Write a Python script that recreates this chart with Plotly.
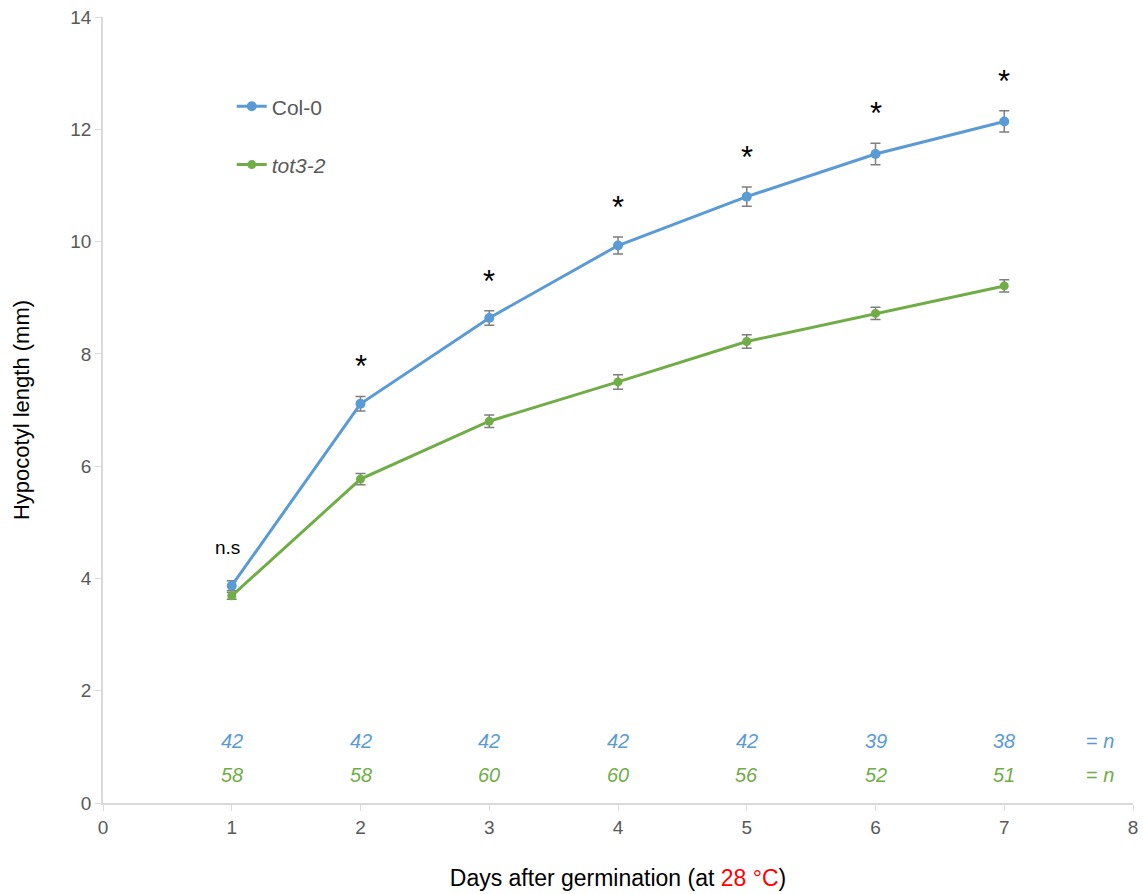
import plotly.graph_objects as go

days = [1, 2, 3, 4, 5, 6, 7]
col0 = [3.87, 7.11, 8.64, 9.93, 10.80, 11.56, 12.14]
col0_err = [0.09, 0.13, 0.13, 0.15, 0.17, 0.19, 0.19]
tot3 = [3.69, 5.77, 6.80, 7.50, 8.22, 8.72, 9.21]
tot3_err = [0.06, 0.10, 0.11, 0.13, 0.12, 0.11, 0.11]
n_col0 = ["42", "42", "42", "42", "42", "39", "38"]
n_tot3 = ["58", "58", "60", "60", "56", "52", "51"]
sig = ["n.s", "*", "*", "*", "*", "*", "*"]

BLUE = "#5B9BD5"
GREEN = "#70AD47"
FONT = "Liberation Sans, Arial, sans-serif"

fig = go.Figure()
fig.add_trace(go.Scatter(
    x=days, y=col0, name="Col-0", mode="lines+markers",
    line=dict(color=BLUE, width=3), marker=dict(color=BLUE, size=10),
    error_y=dict(type="data", array=col0_err, color="#7f7f7f", thickness=1.5, width=5),
    legendgroup="a"))
fig.add_trace(go.Scatter(
    x=days, y=tot3, name="<i>tot3-2</i>", mode="lines+markers",
    line=dict(color=GREEN, width=3), marker=dict(color=GREEN, size=9),
    error_y=dict(type="data", array=tot3_err, color="#7f7f7f", thickness=1.5, width=5),
    legendgroup="b"))

ann = []
for d, v, e, s in zip(days, col0, col0_err, sig):
    if s == "*":
        ann.append(dict(x=d, y=v + 0.18 + e, text="*", showarrow=False, yanchor="bottom",
                        font=dict(size=31, color="black", family=FONT)))
    else:
        ann.append(dict(x=d, y=v + 0.45, text=s, showarrow=False, yanchor="bottom",
                        xshift=-4, font=dict(size=19, color="black", family=FONT)))
for d, a, b in zip(days, n_col0, n_tot3):
    ann.append(dict(x=d, y=1.1, text=f"<i>{a}</i>", showarrow=False,
                    font=dict(size=20, color=BLUE, family=FONT)))
    ann.append(dict(x=d, y=0.5, text=f"<i>{b}</i>", showarrow=False,
                    font=dict(size=20, color=GREEN, family=FONT)))
ann.append(dict(x=7.74, y=1.1, text="= <i>n</i>", showarrow=False,
                font=dict(size=20, color=BLUE, family=FONT)))
ann.append(dict(x=7.74, y=0.5, text="= <i>n</i>", showarrow=False,
                font=dict(size=20, color=GREEN, family=FONT)))

fig.update_layout(
    width=1143, height=894,
    margin=dict(l=103, r=10, t=17, b=91),
    plot_bgcolor="white", paper_bgcolor="white",
    font=dict(family=FONT, color="#595959"),
    showlegend=True,
    legend=dict(x=0.125, y=0.912, xanchor="left", yanchor="top",
                font=dict(size=21, color="#595959", family=FONT),
                tracegroupgap=28, bgcolor="rgba(0,0,0,0)"),
    xaxis=dict(range=[0, 8], tickmode="linear", dtick=1, showgrid=False, zeroline=False,
               showline=True, linecolor="#d9d9d9", linewidth=1.5,
               ticks="outside", ticklen=6, tickcolor="#d9d9d9",
               tickfont=dict(size=19, color="#595959"), automargin=False,
               title=dict(text="Days after germination (at <span style='color:red'>28 °C</span>)",
                          font=dict(size=23, color="black"), standoff=33)),
    yaxis=dict(range=[0, 14], tickmode="linear", dtick=2, showgrid=False, zeroline=False,
               showline=True, linecolor="#d9d9d9", linewidth=1.5,
               ticks="outside", ticklen=6, tickcolor="#d9d9d9",
               tickfont=dict(size=19, color="#595959"), automargin=False,
               title=dict(text="Hypocotyl length (mm)", font=dict(size=22, color="black"),
                          standoff=35)),
    annotations=ann,
)

fig.write_html("out.html")
